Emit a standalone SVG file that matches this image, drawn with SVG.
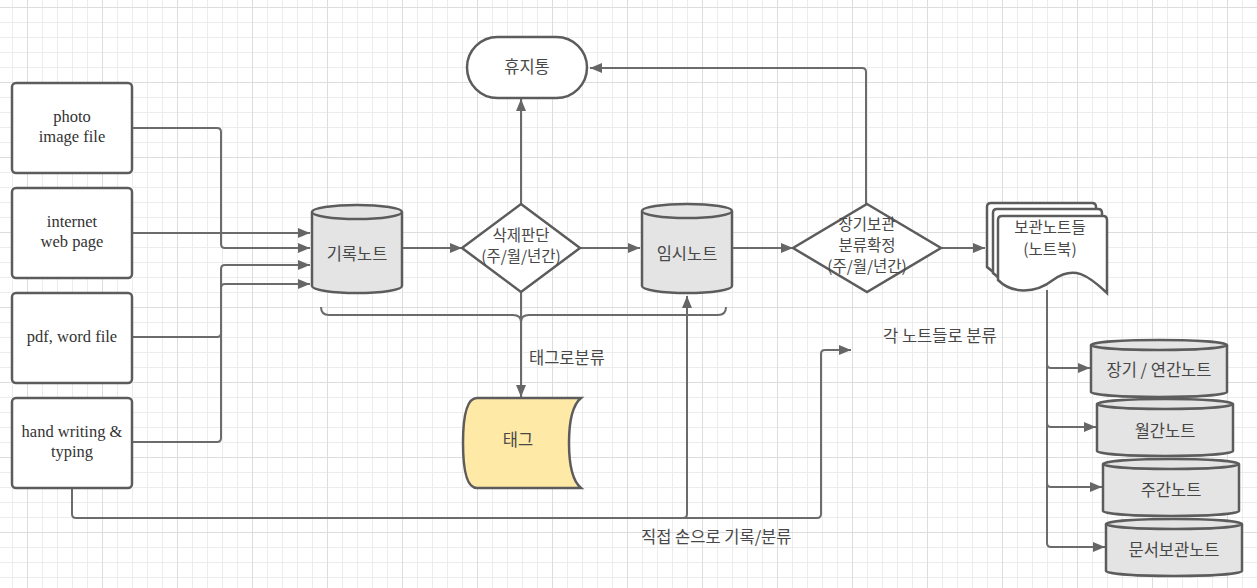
<svg xmlns="http://www.w3.org/2000/svg" width="1257" height="588" viewBox="0 0 1257 588">
<defs>
<pattern id="grid" x="27" y="7" width="75" height="75" patternUnits="userSpaceOnUse">
<path d="M15.5,0V75M30.5,0V75M45.5,0V75M60.5,0V75M0,15.5H75M0,30.5H75M0,45.5H75M0,60.5H75" stroke="#ececec" stroke-width="1" fill="none"/>
<path d="M0.5,0V75M0,0.5H75" stroke="#dddddd" stroke-width="1" fill="none"/>
</pattern>
<marker id="arr" viewBox="0 0 12 10" refX="12" refY="5" markerWidth="12" markerHeight="10" markerUnits="userSpaceOnUse" orient="auto">
<path d="M0,0L12,5L0,10Z" fill="#666666"/>
</marker>
<style>
.box{fill:#ffffff;stroke:#5c5c5c;stroke-width:2.5}
.cyl{fill:#e4e4e4;stroke:#5c5c5c;stroke-width:2.5}
.dia{fill:#ffffff;stroke:#5c5c5c;stroke-width:2.5}
.conn{fill:none;stroke:#6b6b6b;stroke-width:2}
.en{font-family:"Liberation Serif",serif;font-size:16.5px;fill:#333333;text-anchor:middle}
.ko{font-family:"Noto Sans CJK KR","Noto Sans",sans-serif;font-size:16.5px;fill:#484848;text-anchor:middle}
.kod{font-family:"Noto Sans CJK KR","Noto Sans",sans-serif;font-size:15.5px;fill:#484848;text-anchor:middle}
.kol{font-family:"Noto Sans CJK KR","Noto Sans",sans-serif;font-size:16.5px;fill:#484848}
</style>
</defs>
<rect x="0" y="0" width="1257" height="588" fill="#ffffff"/>
<rect x="0" y="0" width="1257" height="588" fill="url(#grid)"/>

<g id="connectors">
<path class="conn" d="M132,128H217Q221,128 221,132V244Q221,248 225,248H310" marker-end="url(#arr)"/>
<path class="conn" d="M132,233H310" marker-end="url(#arr)"/>
<path class="conn" d="M132,337H217Q221,337 221,333V269Q221,265 225,265H310" marker-end="url(#arr)"/>
<path class="conn" d="M132,442H217Q221,442 221,438V288Q221,284 225,284H310" marker-end="url(#arr)"/>
<path class="conn" d="M72,488V514Q72,518 76,518H817Q821,518 821,514V354Q821,350 825,350H851" marker-end="url(#arr)"/>
<path class="conn" d="M683,518Q687,518 687,514V296" marker-end="url(#arr)"/>
<path class="conn" d="M402,248H462" marker-end="url(#arr)"/>
<path class="conn" d="M580,248H640" marker-end="url(#arr)"/>
<path class="conn" d="M732,248H793" marker-end="url(#arr)"/>
<path class="conn" d="M941,248H985" marker-end="url(#arr)"/>
<path class="conn" d="M521,204V99" marker-end="url(#arr)"/>
<path class="conn" d="M866,204V72Q866,68 862,68H590" marker-end="url(#arr)"/>
<path class="conn" d="M521,292V397" marker-end="url(#arr)"/>
<path class="conn" d="M321,307Q321,315 329,315H513Q521,315 521,322Q521,315 529,315H718Q726,315 726,307"/>
<path class="conn" d="M1047,290V543Q1047,547 1051,547H1105" marker-end="url(#arr)"/>
<path class="conn" d="M1047,364Q1047,368 1051,368H1090" marker-end="url(#arr)"/>
<path class="conn" d="M1047,423Q1047,427 1051,427H1096" marker-end="url(#arr)"/>
<path class="conn" d="M1047,483Q1047,487 1051,487H1102" marker-end="url(#arr)"/>
<text class="kol" x="529" y="364">태그로분류</text>
<text class="kol" x="641" y="543">직접 손으로 기록/분류</text>
<text class="kol" x="883" y="342">각 노트들로 분류</text>
</g>

<g id="photo">
<rect class="box" x="12" y="83" width="120" height="90" rx="4"/>
<text class="en" x="72" y="122">photo</text>
<text class="en" x="72" y="142">image file</text>
</g>
<g id="internet">
<rect class="box" x="12" y="188" width="120" height="90" rx="4"/>
<text class="en" x="72" y="227">internet</text>
<text class="en" x="72" y="247">web page</text>
</g>
<g id="pdf">
<rect class="box" x="12" y="293" width="120" height="90" rx="4"/>
<text class="en" x="72" y="342">pdf, word file</text>
</g>
<g id="handwriting">
<rect class="box" x="12" y="398" width="120" height="90" rx="4"/>
<text class="en" x="72" y="437">hand writing &amp;</text>
<text class="en" x="72" y="457">typing</text>
</g>

<g id="trash">
<rect class="box" x="467" y="37" width="120" height="61" rx="30.5"/>
<text class="ko" x="527" y="73">휴지통</text>
</g>

<g id="recordnote">
<path class="cyl" d="M312,212V286A45,7 0 0 0 402,286V212"/>
<ellipse class="cyl" cx="357" cy="212" rx="45" ry="7"/>
<text class="ko" x="357" y="260">기록노트</text>
</g>

<g id="deletedecision">
<path class="dia" d="M521,204L580,248L521,292L462,248Z"/>
<text class="kod" x="521" y="241">삭제판단</text>
<text class="kod" x="521" y="262">(주/월/년간)</text>
</g>

<g id="tempnote">
<path class="cyl" d="M642,211V286A45,7 0 0 0 732,286V211"/>
<ellipse class="cyl" cx="687" cy="211" rx="45" ry="7"/>
<text class="ko" x="687" y="260">임시노트</text>
</g>

<g id="longterm">
<path class="dia" d="M867,204L941,248L867,292L793,248Z"/>
<text class="kod" x="867" y="230">장기보관</text>
<text class="kod" x="867" y="251">분류확정</text>
<text class="kod" x="867" y="272">(주/월/년간)</text>
</g>

<g id="notebooks">
<path class="box" d="M987,207Q987,203 991,203H1092Q1096,203 1096,207V280C1074,259 1064,257 1041,271C1029,281 1001,281 987,267Z"/>
<path class="box" d="M993,213Q993,209 997,209H1098Q1102,209 1102,213V286C1080,265 1070,263 1047,277C1035,287 1007,287 993,273Z"/>
<path class="box" d="M998,220Q998,216 1002,216H1103Q1107,216 1107,220V293C1088,275 1074,265 1053,280C1035,294 1012,294 998,280Z"/>
<text class="kod" x="1050" y="233">보관노트들</text>
<text class="kod" x="1050" y="255">(노트북)</text>
</g>

<g id="tag">
<path d="M581,398H477Q463,398 463,443Q463,488 477,488H581Q569,478 569,443Q569,408 581,398Z" fill="#ffe9a6" stroke="#5c5c5c" stroke-width="2.5"/>
<text class="ko" x="518" y="446">태그</text>
</g>

<g id="yearnote">
<path class="cyl" d="M1091,345V392A68,5 0 0 0 1227,392V345"/>
<ellipse class="cyl" cx="1159" cy="345" rx="68" ry="5"/>
<text class="ko" x="1159" y="376">장기 / 연간노트</text>
</g>
<g id="monthnote">
<path class="cyl" d="M1097,404V451A68,5 0 0 0 1233,451V404"/>
<ellipse class="cyl" cx="1165" cy="404" rx="68" ry="5"/>
<text class="ko" x="1165" y="437">월간노트</text>
</g>
<g id="weeknote">
<path class="cyl" d="M1103,464V511A68,5 0 0 0 1239,511V464"/>
<ellipse class="cyl" cx="1171" cy="464" rx="68" ry="5"/>
<text class="ko" x="1171" y="496">주간노트</text>
</g>
<g id="docnote">
<path class="cyl" d="M1106,524V571A68,5 0 0 0 1242,571V524"/>
<ellipse class="cyl" cx="1174" cy="524" rx="68" ry="5"/>
<text class="ko" x="1174" y="556">문서보관노트</text>
</g>
</svg>
